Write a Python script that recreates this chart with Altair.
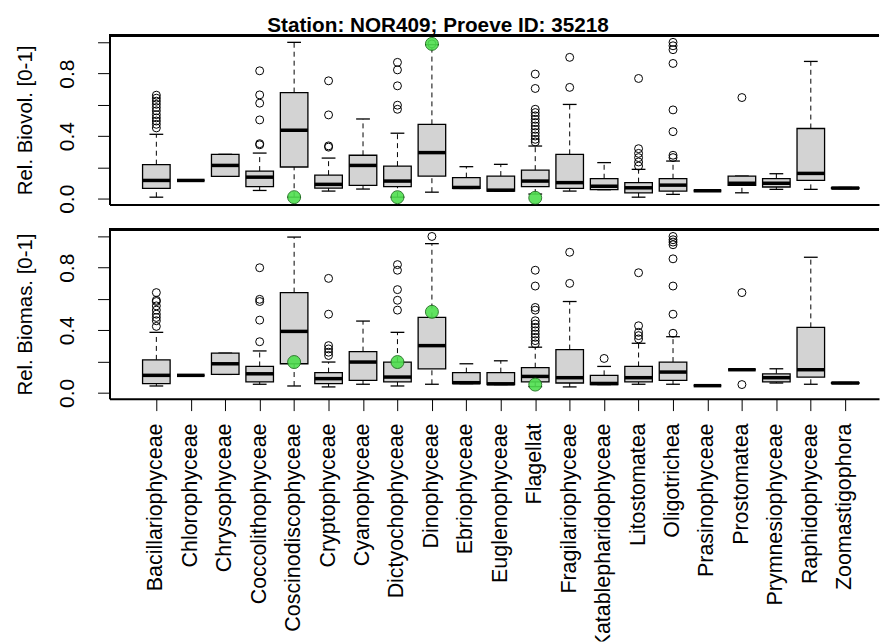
import altair as alt
import pandas as pd

FONT = "Liberation Sans"

cats = ["Bacillariophyceae", "Chlorophyceae", "Chrysophyceae", "Coccolithophyceae",
        "Coscinodiscophyceae", "Cryptophyceae", "Cyanophyceae", "Dictyochophyceae",
        "Dinophyceae", "Ebriophyceae", "Euglenophyceae", "Flagellat",
        "Fragilariophyceae", "Katablepharidophyceae", "Litostomatea", "Oligotrichea",
        "Prasinophyceae", "Prostomatea", "Prymnesiophyceae", "Raphidophyceae",
        "Zoomastigophora"]

# ---- Rel. Biovol. panel ----
bv_lo = [0.010, 0.117, 0.143, 0.053, 0.010, 0.049, 0.062, 0.010, 0.042, 0.066, 0.049,
         0.030, 0.049, 0.058, 0.010, 0.028, 0.051, 0.038, 0.060, 0.060, 0.065]
bv_q1 = [0.066, 0.117, 0.143, 0.077, 0.203, 0.068, 0.085, 0.077, 0.145, 0.066, 0.049,
         0.077, 0.066, 0.058, 0.038, 0.049, 0.051, 0.085, 0.075, 0.117, 0.065]
bv_med = [0.117, 0.117, 0.213, 0.138, 0.438, 0.092, 0.213, 0.113, 0.295, 0.072, 0.055,
          0.113, 0.103, 0.080, 0.070, 0.087, 0.051, 0.099, 0.099, 0.162, 0.068]
bv_q3 = [0.218, 0.117, 0.284, 0.177, 0.679, 0.151, 0.278, 0.209, 0.476, 0.135, 0.145,
         0.183, 0.284, 0.128, 0.103, 0.128, 0.051, 0.145, 0.128, 0.449, 0.072]
bv_hi = [0.412, 0.117, 0.284, 0.292, 1.000, 0.260, 0.510, 0.419, 0.985, 0.205, 0.220,
         0.337, 0.603, 0.231, 0.188, 0.241, 0.051, 0.145, 0.160, 0.878, 0.072]
bv_out_pos = ([1] * 11 + [4] * 6 + [6] * 4 + [8] * 5 + [9] + [12] * 13 + [13] * 2
              + [15] * 6 + [16] * 8 + [18])
bv_out_val = ([0.453, 0.476, 0.497, 0.517, 0.538, 0.562, 0.583, 0.604, 0.624, 0.643, 0.662]
              + [0.345, 0.352, 0.504, 0.611, 0.664, 0.818]
              + [0.330, 0.338, 0.536, 0.754]
              + [0.572, 0.598, 0.722, 0.824, 0.872]
              + [0.990]
              + [0.363, 0.380, 0.401, 0.423, 0.444, 0.465, 0.487, 0.508, 0.530, 0.551, 0.572,
                 0.705, 0.797]
              + [0.712, 0.904]
              + [0.209, 0.235, 0.263, 0.290, 0.320, 0.769]
              + [0.263, 0.278, 0.429, 0.568, 0.865, 0.953, 0.978, 1.000]
              + [0.647])
bv_green_pos = [5, 8, 9, 12]
bv_green_val = [0.010, 0.010, 0.990, 0.006]

# ---- Rel. Biomas. panel ----
bm_lo = [0.044, 0.112, 0.118, 0.055, 0.044, 0.038, 0.055, 0.044, 0.055, 0.059, 0.053,
         0.040, 0.038, 0.053, 0.055, 0.055, 0.046, 0.148, 0.063, 0.055, 0.060]
bm_q1 = [0.059, 0.112, 0.118, 0.070, 0.186, 0.059, 0.080, 0.070, 0.154, 0.059, 0.053,
         0.070, 0.063, 0.053, 0.070, 0.080, 0.046, 0.148, 0.070, 0.101, 0.060]
bm_med = [0.112, 0.112, 0.186, 0.122, 0.393, 0.091, 0.197, 0.101, 0.302, 0.065, 0.058,
          0.105, 0.097, 0.060, 0.097, 0.133, 0.046, 0.148, 0.097, 0.148, 0.063]
bm_q3 = [0.211, 0.112, 0.254, 0.169, 0.641, 0.129, 0.264, 0.197, 0.482, 0.129, 0.129,
         0.161, 0.277, 0.112, 0.169, 0.197, 0.046, 0.148, 0.122, 0.419, 0.066]
bm_hi = [0.387, 0.112, 0.254, 0.268, 0.996, 0.197, 0.459, 0.387, 0.954, 0.186, 0.205,
         0.292, 0.584, 0.169, 0.317, 0.359, 0.046, 0.148, 0.154, 0.867, 0.066]
bm_out_pos = ([1] * 9 + [4] * 5 + [6] * 6 + [8] * 5 + [9] + [12] * 12 + [13] * 2 + [14]
              + [15] * 5 + [16] * 8 + [18] * 2)
bm_out_val = ([0.425, 0.461, 0.482, 0.503, 0.529, 0.556, 0.584, 0.592, 0.641]
              + [0.327, 0.465, 0.584, 0.598, 0.800]
              + [0.239, 0.260, 0.281, 0.302, 0.503, 0.732]
              + [0.529, 0.592, 0.660, 0.784, 0.820]
              + [1.000]
              + [0.313, 0.334, 0.355, 0.376, 0.397, 0.419, 0.440, 0.461, 0.529, 0.546,
                 0.683, 0.784]
              + [0.700, 0.899]
              + [0.220]
              + [0.345, 0.366, 0.387, 0.429, 0.768]
              + [0.381, 0.503, 0.683, 0.857, 0.947, 0.964, 0.979, 1.000]
              + [0.053, 0.641])
bm_green_pos = [5, 8, 9, 12]
bm_green_val = [0.197, 0.197, 0.518, 0.053]

W, H = 773, 170
HALF = 0.4
CAP = 0.2
POS = list(range(1, len(cats) + 1))

xs = alt.Scale(domain=[-0.36, 21.98], nice=False, zero=False)
ys = alt.Scale(domain=[-0.037, 1.045], nice=False, zero=False)


def panel(lo, q1, med, q3, hi, opos, oval, gpos, gval, ytitle, show_ticks):
    df = pd.DataFrame({"pos": POS, "cat": cats,
                       "lo": lo, "q1": q1, "med": med, "q3": q3, "hi": hi})
    odf = pd.DataFrame({"pos": opos, "v": oval})
    gdf = pd.DataFrame({"pos": gpos, "v": gval})

    if show_ticks:
        xaxis = alt.Axis(values=POS, labels=False, tickSize=12, tickColor="black",
                         tickWidth=1, domainColor="black", domainWidth=2,
                         grid=False, title=None, minExtent=0)
    else:
        xaxis = alt.Axis(labels=False, ticks=False, domainColor="black",
                         domainWidth=2, grid=False, title=None, minExtent=0)
    yaxis = alt.Axis(values=[0, 0.2, 0.4, 0.6, 0.8, 1.0],
                     labelExpr="(abs(datum.value) < 0.01 || abs(datum.value - 0.4) < 0.01 || abs(datum.value - 0.8) < 0.01) ? format(datum.value, '.1f') : ''",
                     labelAngle=-90, labelFont=FONT, labelFontSize=21,
                     labelColor="black", labelPadding=20, labelOverlap=False,
                     tickSize=12, tickColor="black", tickWidth=1,
                     domainColor="black", domainWidth=2, grid=False,
                     title=ytitle, titleFont=FONT, titleFontSize=20.5,
                     titleFontWeight="normal", titleColor="black", titlePadding=21)

    base = alt.Chart(df).transform_calculate(
        xl=f"datum.pos - {HALF}", xr=f"datum.pos + {HALF}",
        cl=f"datum.pos - {CAP}", cr=f"datum.pos + {CAP}")

    wl = base.mark_rule(color="black", strokeWidth=1, strokeDash=[5, 4]).encode(
        x=alt.X("pos:Q", scale=xs, axis=xaxis),
        y=alt.Y("lo:Q", scale=ys, axis=yaxis), y2="q1:Q")
    wh = base.mark_rule(color="black", strokeWidth=1, strokeDash=[5, 4]).encode(
        x=alt.X("pos:Q", scale=xs, axis=xaxis),
        y=alt.Y("q3:Q", scale=ys, axis=yaxis), y2="hi:Q")
    cl = base.mark_rule(color="black", strokeWidth=1.3).encode(
        x=alt.X("cl:Q", scale=xs, axis=xaxis), x2="cr:Q",
        y=alt.Y("lo:Q", scale=ys, axis=yaxis))
    ch = base.mark_rule(color="black", strokeWidth=1.3).encode(
        x=alt.X("cl:Q", scale=xs, axis=xaxis), x2="cr:Q",
        y=alt.Y("hi:Q", scale=ys, axis=yaxis))
    box = base.mark_rect(fill="#D3D3D3", stroke="black", strokeWidth=1.3).encode(
        x=alt.X("xl:Q", scale=xs, axis=xaxis), x2="xr:Q",
        y=alt.Y("q1:Q", scale=ys, axis=yaxis), y2="q3:Q")
    md = base.mark_rule(color="black", strokeWidth=3.5).encode(
        x=alt.X("xl:Q", scale=xs, axis=xaxis), x2="xr:Q",
        y=alt.Y("med:Q", scale=ys, axis=yaxis))
    outl = alt.Chart(odf).mark_point(shape="circle", filled=False, color="black",
                                     strokeWidth=1, size=64, opacity=1).encode(
        x=alt.X("pos:Q", scale=xs, axis=xaxis),
        y=alt.Y("v:Q", scale=ys, axis=yaxis))
    grn = alt.Chart(gdf).mark_point(shape="circle", filled=True, fill="#4FDF4F",
                                    stroke="#1E6E1E", strokeWidth=1, size=170,
                                    opacity=0.9, clip=True).encode(
        x=alt.X("pos:Q", scale=xs, axis=xaxis),
        y=alt.Y("v:Q", scale=ys, axis=yaxis))
    top = alt.Chart(df).mark_rule(color="black", strokeWidth=2).encode(
        x=alt.value(0), x2=alt.value({"expr": "width"}), y=alt.value(0))
    return alt.layer(wl, wh, cl, ch, box, md, outl, grn, top).properties(width=W, height=H)


p1 = panel(bv_lo, bv_q1, bv_med, bv_q3, bv_hi, bv_out_pos, bv_out_val,
           bv_green_pos, bv_green_val, "Rel. Biovol. [0-1]", False)
p2 = panel(bm_lo, bm_q1, bm_med, bm_q3, bm_hi, bm_out_pos, bm_out_val,
           bm_green_pos, bm_green_val, "Rel. Biomas. [0-1]", True)

# category labels (rotated), clipped at the bottom edge like the original
lab_df = pd.DataFrame({"pos": POS, "cat": cats})
p3 = alt.Chart(lab_df).mark_text(angle=270, align="right", baseline="middle",
                                 font=FONT, fontSize=21.5, color="black",
                                 clip=True).encode(
    x=alt.X("pos:Q", scale=xs, axis=None),
    y=alt.value(4),
    text="cat:N",
).properties(width=W, height=223)

chart = alt.vconcat(p1, alt.vconcat(p2, p3, spacing=8), spacing=15).properties(
    title=alt.TitleParams("Station: NOR409; Proeve ID: 35218", font=FONT,
                          fontSize=20.8, fontWeight="bold", color="black",
                          anchor="middle", offset=-2, dx=-10),
    padding={"left": 15, "top": 13, "right": 0, "bottom": 0},
    background="white",
).configure_view(stroke=None)

chart.save("out.html", embed_options={"renderer": "svg", "actions": False})
